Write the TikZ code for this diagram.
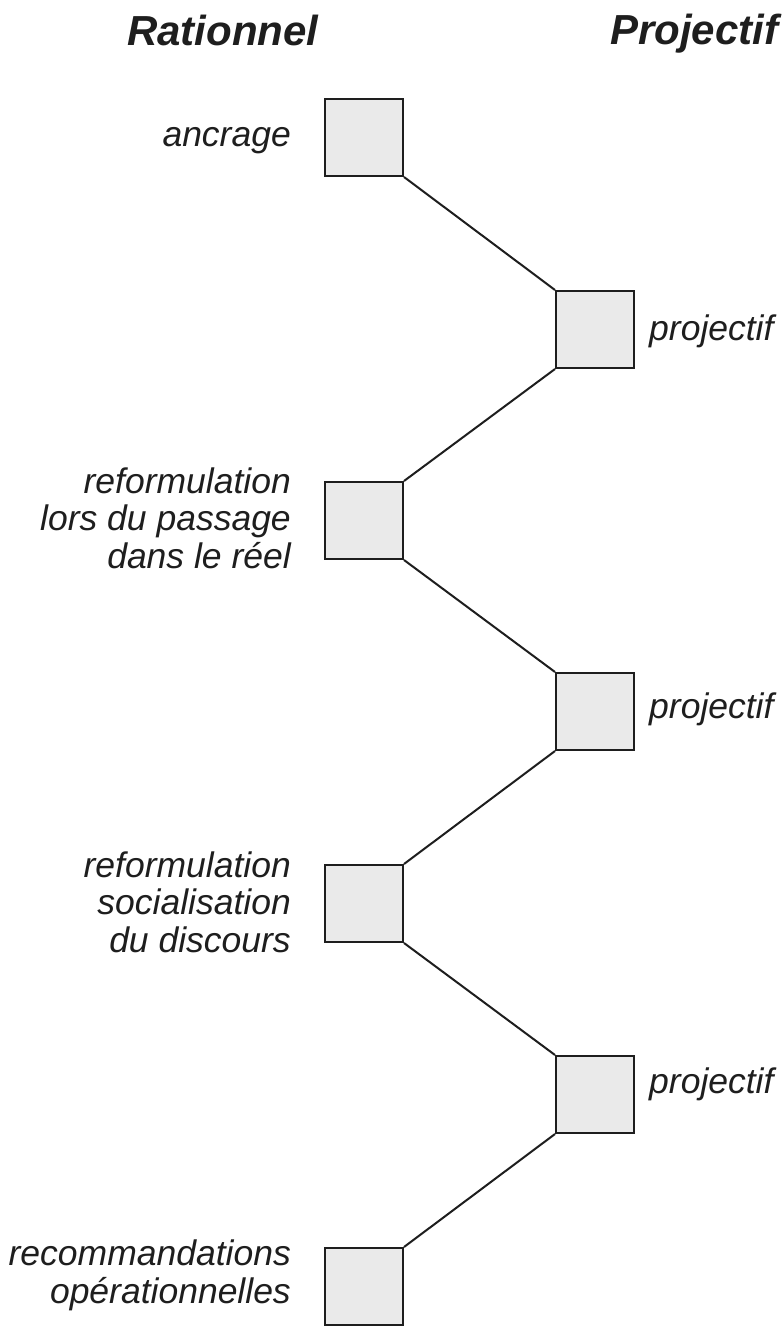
\documentclass[tikz,border=0pt]{standalone}
\usepackage{fontspec}
\setmainfont{Liberation Sans}
\definecolor{boxfill}{HTML}{EAEAEA}
\definecolor{ink}{HTML}{1E1E1E}
\begin{document}
\begin{tikzpicture}[x=1pt,y=-1pt,
  stage/.style={draw=ink,fill=boxfill,line width=2pt,rectangle,
    minimum width=78pt,minimum height=77pt,inner sep=0pt},
  link/.style={draw=ink,line width=2pt},
  heading/.style={inner sep=0pt,anchor=base west,text=ink,
    font=\fontsize{42}{46}\selectfont\bfseries\itshape},
  lefttxt/.style={inner sep=0pt,anchor=base east,align=right,text=ink,
    font=\fontsize{35.5}{37.5}\selectfont\itshape},
  righttxt/.style={inner sep=0pt,anchor=base west,text=ink,
    font=\fontsize{35.5}{37.5}\selectfont\itshape}]
\useasboundingbox (0,0) rectangle (784,1326);

% column headings
\node[heading] (hr) at (127,45) {Rationnel};
\node[heading] (hp) at (610,44) {Projectif};

% stages, alternating between the two columns
\node[stage] (s1) at (364,137.5) {};
\node[stage] (s2) at (595,329.5) {};
\node[stage] (s3) at (364,520.5) {};
\node[stage] (s4) at (595,711.5) {};
\node[stage] (s5) at (364,903.5) {};
\node[stage] (s6) at (595,1094.5) {};
\node[stage] (s7) at (364,1286.5) {};

% zig-zag path joining the stages corner to corner
\draw[link] (s1.south east) -- (s2.north west);
\draw[link] (s2.south west) -- (s3.north east);
\draw[link] (s3.south east) -- (s4.north west);
\draw[link] (s4.south west) -- (s5.north east);
\draw[link] (s5.south east) -- (s6.north west);
\draw[link] (s6.south west) -- (s7.north east);

% labels (base anchor = baseline of the last line)
\node[lefttxt] (l1) at (291,146) {ancrage};
\node[righttxt] (r2) at (649,340) {projectif};
\node[lefttxt] (l3) at (291,568) {reformulation\\lors du passage\\dans le réel};
\node[righttxt] (r4) at (649,718) {projectif};
\node[lefttxt] (l5) at (291,952) {reformulation\\socialisation\\du discours};
\node[righttxt] (r6) at (649,1093) {projectif};
\node[lefttxt] (l7) at (291,1303) {recommandations\\opérationnelles};
\end{tikzpicture}
\end{document}
